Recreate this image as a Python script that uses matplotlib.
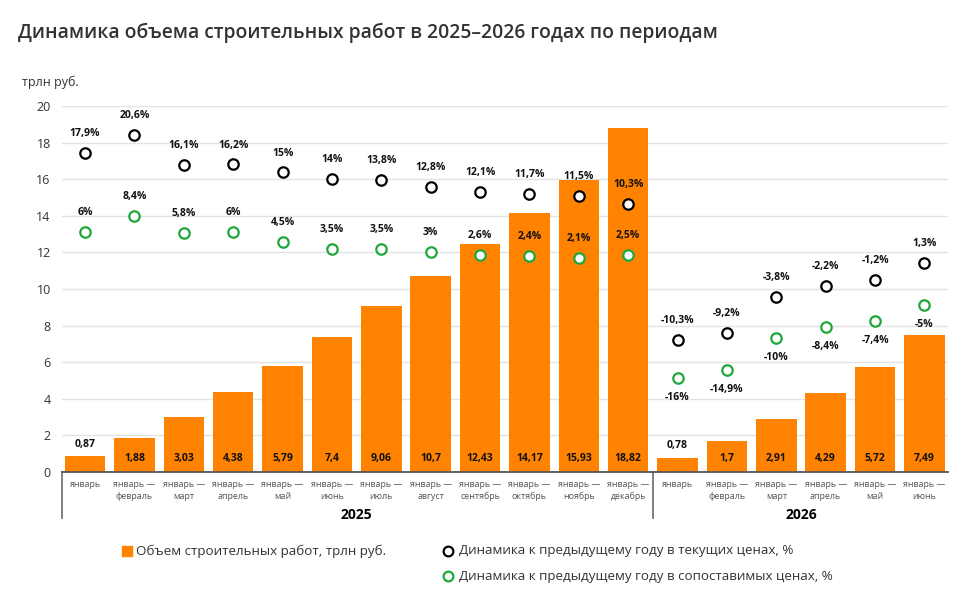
import numpy as np
import matplotlib
matplotlib.use("Agg")
from matplotlib import pyplot as plt
from matplotlib.lines import Line2D

plt.rcParams['font.family'] = ['Open Sans', 'DejaVu Sans']

months = ["январь", "январь —\nфевраль", "январь —\nмарт", "январь —\nапрель",
          "январь —\nмай", "январь —\nиюнь", "январь —\nиюль", "январь —\nавгуст",
          "январь —\nсентябрь", "январь —\nоктябрь", "январь —\nноябрь", "январь —\nдекабрь",
          "январь", "январь —\nфевраль", "январь —\nмарт", "январь —\nапрель",
          "январь —\nмай", "январь —\nиюнь"]
years = ["2025", "2026"]
volume = [0.87, 1.88, 3.03, 4.38, 5.79, 7.4, 9.06, 10.7, 12.43, 14.17, 15.93, 18.82,
          0.78, 1.7, 2.91, 4.29, 5.72, 7.49]
cur_prices = [17.9, 20.6, 16.1, 16.2, 15, 14, 13.8, 12.8, 12.1, 11.7, 11.5, 10.3,
              -10.3, -9.2, -3.8, -2.2, -1.2, 1.3]
comp_prices = [6, 8.4, 5.8, 6, 4.5, 3.5, 3.5, 3, 2.6, 2.4, 2.1, 2.5,
               -16, -14.9, -10, -8.4, -7.4, -5]

orange = '#ff8200'
green = '#1ea83c'

def fmt(v):
    s = ('%g' % v).replace('.', ',')
    return s

x = np.arange(len(volume))
fig = plt.figure(figsize=(9.67, 6.02), dpi=100)
ax = fig.add_axes([0.064, 0.216, 0.916, 0.608])

ax.bar(x, volume, width=0.82, color=orange, zorder=2)
for xi, v in zip(x, volume):
    if v < 1.2:
        ax.text(xi, v + 0.35, fmt(v), ha='center', va='bottom', fontsize=7.5, fontweight='bold', color='#111111', zorder=5)
    else:
        ax.text(xi, 0.75, fmt(v), ha='center', va='center', fontsize=7.5, fontweight='bold', color='#111111', zorder=5)

ax.set_xlim(-0.47, 17.47)
ax.set_ylim(0, 20)
ax.set_yticks(range(0, 21, 2))
ax.tick_params(axis='y', length=0, labelsize=9, colors='#333333', pad=8)
ax.set_xticks(x)
ax.set_xticklabels(months, fontsize=6.4, color='#555555', linespacing=1.35)
ax.tick_params(axis='x', length=0, pad=6)
ax.grid(axis='y', color='#e3e3e3', linewidth=1, zorder=0)
ax.set_axisbelow(True)
for s in ['top', 'right', 'left']:
    ax.spines[s].set_visible(False)
ax.spines['bottom'].set_color('#555555')
ax.spines['bottom'].set_linewidth(1.3)

# year dividers
for xv in [-0.47, 11.5]:
    ax.axvline(xv, ymin=-0.126, ymax=0, color='#777777', linewidth=1.3, clip_on=False)
tr = ax.get_xaxis_transform()
ax.text(5.5, -0.118, years[0], transform=tr, ha='center', va='center', fontsize=10, fontweight='bold')
ax.text(14.5, -0.118, years[1], transform=tr, ha='center', va='center', fontsize=10, fontweight='bold')

# percentages on a hidden second axis
ax2 = ax.twinx()
ax2.set_ylim(-30.22, 25.03)
ax2.axis('off')
ax2.plot(x, cur_prices, 'o', ls='none', ms=7.5, mew=1.6, mfc='white', mec='black', zorder=4)
ax2.plot(x, comp_prices, 'o', ls='none', ms=7.5, mew=1.6, mfc='white', mec=green, zorder=4)
for xi, v in zip(x, cur_prices):
    ax2.annotate(fmt(v) + '%', (xi, v), xytext=(0, 10), textcoords='offset points',
                 ha='center', va='bottom', fontsize=7.5, fontweight='bold', color='#111111')
for xi, v in zip(x, comp_prices):
    if v >= 0:
        ax2.annotate(fmt(v) + '%', (xi, v), xytext=(0, 10), textcoords='offset points',
                     ha='center', va='bottom', fontsize=7.5, fontweight='bold', color='#111111')
    else:
        ax2.annotate(fmt(v) + '%', (xi, v), xytext=(0, -10), textcoords='offset points',
                     ha='center', va='top', fontsize=7.5, fontweight='bold', color='#111111')

fig.text(0.019, 0.945, "Динамика объема строительных работ в 2025–2026 годах по периодам",
         fontsize=13.9, fontweight='semibold', color='#333333', va='center')
fig.text(0.023, 0.864, "трлн руб.", fontsize=9, color='#333333', va='center')

# legend
fig.add_artist(Line2D([0.1315], [0.085], marker='s', ms=7, color=orange, ls='none', transform=fig.transFigure))
fig.text(0.141, 0.085, "Объем строительных работ, трлн руб.", fontsize=9.6, color='#333333', va='center')
fig.add_artist(Line2D([0.4635], [0.085], marker='o', ms=7, mew=1.6, mfc='white', mec='black', ls='none', transform=fig.transFigure))
fig.text(0.475, 0.085, "Динамика к предыдущему году в текущих ценах, %", fontsize=9.6, color='#333333', va='center')
fig.add_artist(Line2D([0.4635], [0.043], marker='o', ms=7, mew=1.6, mfc='white', mec=green, ls='none', transform=fig.transFigure))
fig.text(0.475, 0.043, "Динамика к предыдущему году в сопоставимых ценах, %", fontsize=9.6, color='#333333', va='center')

fig.savefig('out.png', dpi=100)
